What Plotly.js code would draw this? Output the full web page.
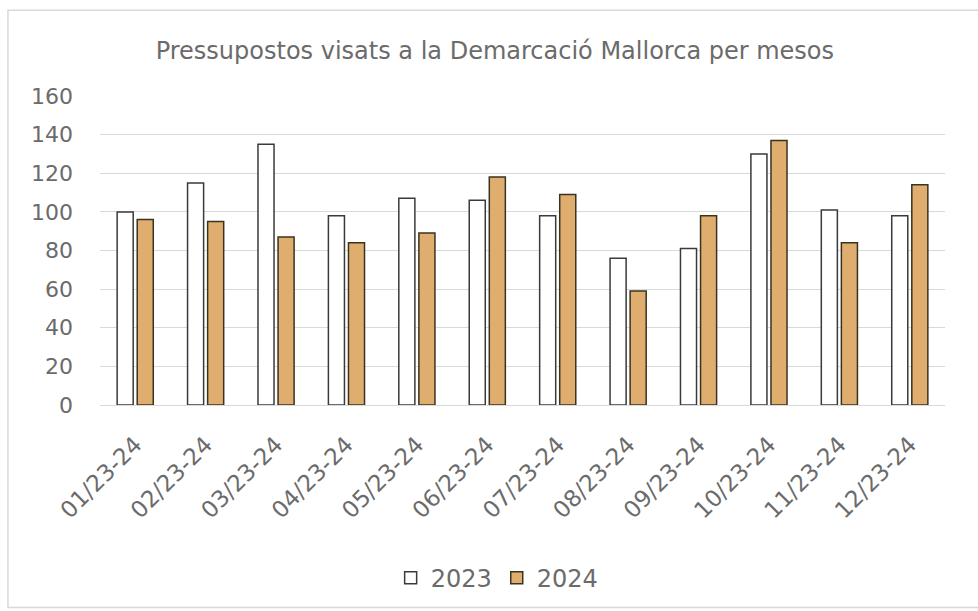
<!DOCTYPE html>
<html>
<head>
<meta charset="utf-8">
<script src="https://cdn.plot.ly/plotly-3.0.1.min.js"></script>
<style>html,body{margin:0;padding:0;background:#fff;}#chart{width:978px;height:611px;}</style>
</head>
<body>
<div id="chart"></div>
<script>
const categories = ["01/23-24","02/23-24","03/23-24","04/23-24","05/23-24","06/23-24","07/23-24","08/23-24","09/23-24","10/23-24","11/23-24","12/23-24"];
const values2023 = [100, 115, 135, 98, 107, 106, 98, 76, 81, 130, 101, 98];
const values2024 = [96, 95, 87, 84, 89, 118, 109, 59, 98, 137, 84, 114];
const yTicks = [0, 20, 40, 60, 80, 100, 120, 140, 160];

const font = "'DejaVu Sans', Verdana, sans-serif";
const grey = "#6b6b6b";

const traces = [
  {type:"bar", name:"2023", x:categories, y:values2023,
   marker:{color:"#ffffff", line:{color:"#3a3a3a", width:1.5}}},
  {type:"bar", name:"2024", x:categories, y:values2024,
   marker:{color:"#dfae6e", line:{color:"#3a3320", width:1.5}}}
];

const layout = {
  width:978, height:611,
  margin:{l:100, r:33, t:96, b:205},
  paper_bgcolor:"#ffffff", plot_bgcolor:"#ffffff",
  title:{text:"Pressupostos visats a la Demarcació Mallorca per mesos",
         font:{family:font, size:24, color:grey}, x:0.506, xanchor:"center", y:0.918, yanchor:"middle"},
  barmode:"group", bargap:0.43, bargroupgap:0.2,
  xaxis:{type:"category", tickangle:-45, tickfont:{family:font, size:23, color:grey},
         showgrid:false, showline:true, linecolor:"#d9d9d9", linewidth:1, ticks:"", ticklabelstandoff:16, automargin:false},
  yaxis:{range:[0,160], tickvals:yTicks, ticktext:yTicks.map(String), showgrid:true, gridcolor:"#d9d9d9", gridwidth:1,
         zeroline:false, showline:false, ticks:"", ticklabelstandoff:26,
         tickfont:{family:font, size:22, color:grey}, automargin:false},
  legend:{orientation:"h", x:0.47, xanchor:"center", y:-0.555, yanchor:"middle",
          font:{family:font, size:24, color:grey}, itemwidth:30, traceorder:"normal"},
  showlegend:true,
  shapes:[{type:"rect", xref:"paper", yref:"paper", x0:-0.1089, x1:1.06, y0:-0.655, y1:1.2774,
           line:{color:"#d9d9d9", width:1.5}, fillcolor:"rgba(0,0,0,0)", layer:"below"}]
};

Plotly.newPlot("chart", traces, layout, {displayModeBar:false, staticPlot:true});
</script>
</body>
</html>
